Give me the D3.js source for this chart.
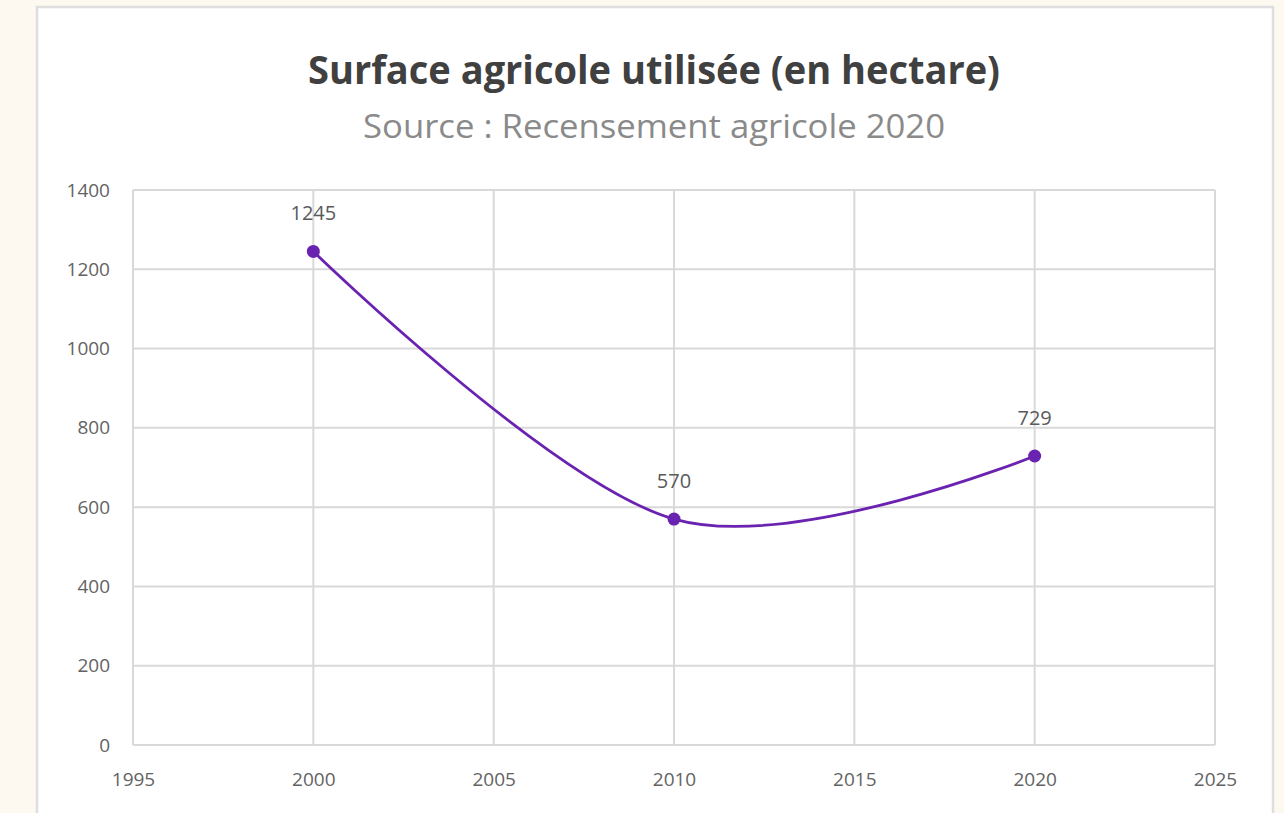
<!DOCTYPE html>
<html>
<head>
<meta charset="utf-8">
<script src="https://cdn.jsdelivr.net/npm/d3@7"></script>
<style>
  html, body { margin: 0; padding: 0; background: #fdf9f0; }
  svg { display: block; }
</style>
</head>
<body>
<svg id="chart" width="1284" height="813"></svg>
<script>
const years = [2000, 2010, 2020];
const surface = [1245, 570, 729];
const yTicks = [0, 200, 400, 600, 800, 1000, 1200, 1400];
const xTicks = [1995, 2000, 2005, 2010, 2015, 2020, 2025];
const title = 'Surface agricole utilisée (en hectare)';
const subtitle = 'Source : Recensement agricole 2020';

const svg = d3.select('#chart');
const font = 'Open Sans, Noto Sans, sans-serif';

// white card
svg.append('rect')
  .attr('x', 37).attr('y', 7)
  .attr('width', 1236).attr('height', 820)
  .attr('fill', '#fff')
  .attr('stroke', '#dedede')
  .attr('stroke-width', 2.5);

const margin = { top: 190, right: 69, bottom: 68, left: 133 };
const width = 1284 - margin.left - margin.right;
const height = 813 - margin.top - margin.bottom;

const g = svg.append('g').attr('transform', `translate(${margin.left},${margin.top})`);

const x = d3.scaleLinear().domain([1995, 2025]).range([0, width]);
const y = d3.scaleLinear().domain([0, 1400]).range([height, 0]);

// grid
g.selectAll('.hgrid')
  .data(yTicks)
  .enter()
  .append('line')
  .attr('x1', 0).attr('x2', width)
  .attr('y1', d => y(d)).attr('y2', d => y(d))
  .attr('stroke', '#d9d9d9')
  .attr('stroke-width', 2);

g.selectAll('.vgrid')
  .data(xTicks)
  .enter()
  .append('line')
  .attr('y1', 0).attr('y2', height)
  .attr('x1', d => x(d)).attr('x2', d => x(d))
  .attr('stroke', '#d9d9d9')
  .attr('stroke-width', 2);

// axes labels
const yAxis = g.append('g')
  .attr('transform', 'translate(-10,0)')
  .call(d3.axisLeft(y).tickValues(yTicks).tickSize(0).tickPadding(13).tickFormat(d3.format('d')));
const xAxis = g.append('g')
  .attr('transform', `translate(0,${height})`)
  .call(d3.axisBottom(x).tickValues(xTicks).tickSize(0).tickPadding(28).tickFormat(d3.format('d')));

[yAxis, xAxis].forEach(a => {
  a.select('.domain').remove();
  a.selectAll('text')
    .attr('fill', '#636363')
    .style('font-family', font)
    .style('font-size', '19px');
});

// line
const points = years.map((yr, i) => ({ year: yr, value: surface[i] }));
const line = d3.line()
  .x(d => x(d.year))
  .y(d => y(d.value))
  .curve(d3.curveCatmullRom.alpha(0));

g.append('path')
  .datum(points)
  .attr('d', line)
  .attr('fill', 'none')
  .attr('stroke', '#6a22b0')
  .attr('stroke-width', 2.8);

g.selectAll('.dot')
  .data(points)
  .enter()
  .append('circle')
  .attr('cx', d => x(d.year))
  .attr('cy', d => y(d.value))
  .attr('r', 6.5)
  .attr('fill', '#6a22b0');

g.selectAll('.lbl')
  .data(points)
  .enter()
  .append('text')
  .attr('x', d => x(d.year))
  .attr('y', d => y(d.value) - 31)
  .attr('text-anchor', 'middle')
  .attr('fill', '#5a5a5a')
  .style('font-family', font)
  .style('font-size', '20px')
  .text(d => d.value);

// titles
svg.append('text')
  .attr('x', 654).attr('y', 84)
  .attr('text-anchor', 'middle')
  .attr('textLength', 692)
  .attr('lengthAdjust', 'spacingAndGlyphs')
  .attr('fill', '#404040')
  .style('font-family', font)
  .style('font-weight', 'bold')
  .style('font-size', '40px')
  .text(title);

svg.append('text')
  .attr('x', 654).attr('y', 138)
  .attr('text-anchor', 'middle')
  .attr('textLength', 582)
  .attr('lengthAdjust', 'spacingAndGlyphs')
  .attr('fill', '#8a8a8a')
  .style('font-family', font)
  .style('font-size', '32px')
  .text(subtitle);
</script>
</body>
</html>
